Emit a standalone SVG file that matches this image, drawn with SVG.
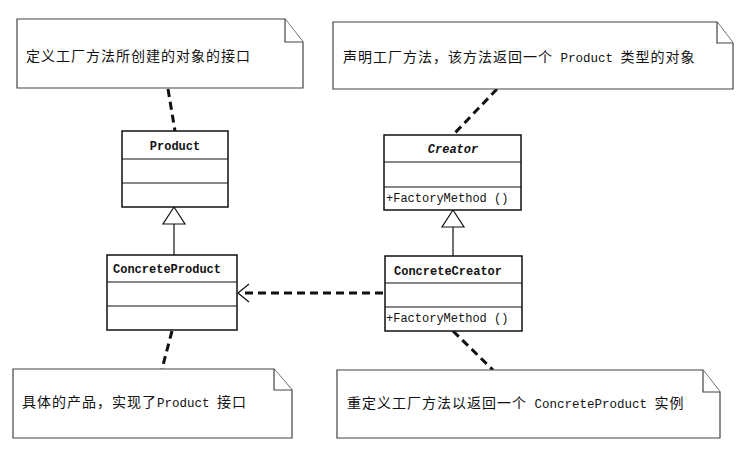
<svg xmlns="http://www.w3.org/2000/svg" width="742" height="451" viewBox="0 0 742 451">
<style>
.box{fill:#fff;stroke:#111;stroke-width:1.5}
.div{stroke:#111;stroke-width:1.2}
.note{fill:#fff;stroke:#444;stroke-width:1.2}
.cls{font-family:"Liberation Mono",monospace;font-size:12px;fill:#111}
.b{font-weight:bold}
.zh{font-family:"Noto Sans CJK SC",sans-serif;font-size:14px;fill:#111}
.lat{font-family:"Liberation Mono",monospace;font-size:12.5px}
.dash{fill:none;stroke:#111;stroke-width:3;stroke-dasharray:8 5}
.solid{fill:none;stroke:#111;stroke-width:1.2}
.tri{fill:#fff;stroke:#111;stroke-width:1.2}
</style>
<rect width="742" height="451" fill="#fff"/>
<g id="connectors">
<line class="dash" x1="168" y1="89" x2="175" y2="131"/>
<line class="dash" x1="497" y1="89" x2="453" y2="135"/>
<line class="dash" x1="172" y1="331" x2="162" y2="369"/>
<line class="dash" x1="453" y1="331" x2="493" y2="370"/>
<line class="dash" x1="383" y1="293" x2="240" y2="293"/>
<polyline class="solid" points="249,284 238,293 249,302" stroke-width="1.5"/>
<line class="solid" x1="174" y1="224" x2="174" y2="255"/>
<polygon class="tri" points="174,207 163,224 185,224"/>
<line class="solid" x1="453" y1="227" x2="453" y2="256"/>
<polygon class="tri" points="453,210 442,227 464,227"/>
</g>
<g id="note1">
<path class="note" d="M17,19 H285 L303,42 V88 H17 Z"/>
<polyline class="note" points="285,19 285,42 303,42" fill="none"/>
<text class="zh" x="26" y="61" letter-spacing="1">定义工厂方法所创建的对象的接口</text>
</g>
<g id="note2">
<path class="note" d="M333,22 H717 L733,43 V89 H333 Z"/>
<polyline class="note" points="717,22 717,43 733,43" fill="none"/>
<text class="zh" x="343" y="62" letter-spacing="1">声明工厂方法，该方法返回一个<tspan class="lat" letter-spacing="0"> Product </tspan>类型的对象</text>
</g>
<g id="Product">
<rect class="box" x="122" y="131" width="106" height="76"/>
<line class="div" x1="122" y1="159" x2="228" y2="159"/>
<line class="div" x1="122" y1="183" x2="228" y2="183"/>
<text class="cls b" x="175" y="150" text-anchor="middle">Product</text>
</g>
<g id="Creator">
<rect class="box" x="384" y="135" width="137" height="75"/>
<line class="div" x1="384" y1="162" x2="521" y2="162"/>
<line class="div" x1="384" y1="187" x2="521" y2="187"/>
<text class="cls b" x="453" y="153" text-anchor="middle" font-style="italic">Creator</text>
<text class="cls" x="386" y="202">+FactoryMethod ()</text>
</g>
<g id="ConcreteProduct">
<rect class="box" x="107" y="255" width="130" height="75"/>
<line class="div" x1="107" y1="282" x2="237" y2="282"/>
<line class="div" x1="107" y1="306" x2="237" y2="306"/>
<text class="cls b" x="113" y="273">ConcreteProduct</text>
</g>
<g id="ConcreteCreator">
<rect class="box" x="385" y="256" width="137" height="75"/>
<line class="div" x1="385" y1="283" x2="522" y2="283"/>
<line class="div" x1="385" y1="307" x2="522" y2="307"/>
<text class="cls b" x="394" y="275">ConcreteCreator</text>
<text class="cls" x="386" y="322">+FactoryMethod ()</text>
</g>
<g id="note3">
<path class="note" d="M13,369 H274 L292,390 V438 H13 Z"/>
<polyline class="note" points="274,369 274,390 292,390" fill="none"/>
<text class="zh" x="22" y="407" letter-spacing="1">具体的产品，实现了<tspan class="lat" letter-spacing="0">Product </tspan>接口</text>
</g>
<g id="note4">
<path class="note" d="M337,370 H703 L720,392 V438 H337 Z"/>
<polyline class="note" points="703,370 703,392 720,392" fill="none"/>
<text class="zh" x="347" y="408" letter-spacing="1">重定义工厂方法以返回一个<tspan class="lat" letter-spacing="0"> ConcreteProduct </tspan>实例</text>
</g>
</svg>
